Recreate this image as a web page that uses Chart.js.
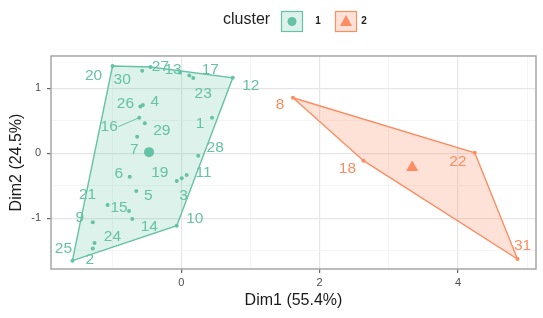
<!DOCTYPE html>
<html><head><meta charset="utf-8">
<script src="https://cdn.jsdelivr.net/npm/chart.js@4.4.1/dist/chart.umd.min.js"></script>
<style>html,body{margin:0;padding:0;background:#fff;}#wrap{width:543px;height:318px;}</style>
</head><body><div id="wrap"><canvas id="c" width="543" height="318"></canvas></div>
<script>
// ---- data ----
const pointIds = ['1','2','3','4','5','6','7','8','9','10','11','12','13','14','15','16','17','18','19','20','21','22','23','24','25','26','27','28','29','30','31'];
const dim1 = [0.443,-1.281,0.004,-0.557,-0.653,-0.747,-0.639,1.614,-1.281,-0.067,0.076,0.743,-0.019,-0.710,-0.757,-0.610,0.114,2.633,-0.067,-0.996,-1.067,4.243,0.171,-1.257,-1.576,-0.593,-0.447,0.243,-0.529,-0.567,4.861];
const dim2 = [0.548,-1.465,-0.385,0.743,-0.580,-0.360,0.255,0.855,-1.062,-1.114,-0.334,1.163,1.240,-1.011,-0.888,0.548,1.197,-0.114,-0.426,1.343,-0.795,0.009,1.158,-1.380,-1.652,0.720,1.328,-0.037,0.462,1.271,-1.626];
const clusterOf = [1,1,1,1,1,1,1,2,1,1,1,1,1,1,1,1,1,2,1,1,1,2,1,1,1,1,1,1,1,1,2];
const clusterNames = ['1','2'];
const xTickValues = [-1,0,1,2,3,4,5];
const xTickLabeled = [0,2,4];
const yTickValues = [-1.5,-1,-0.5,0,0.5,1,1.5];
const yTickLabeled = [-1,0,1];
const xAxisTitle = 'Dim1 (55.4%)';
const yAxisTitle = 'Dim2 (24.5%)';
const legendTitle = 'cluster';

// ---- layout / style (not data) ----
const colors = ['#66C2A5','#FC8D62'];
const fills = ['rgba(102,194,165,0.22)','rgba(252,141,98,0.25)'];
const labelNudge = {
  '1':[-12,6],'2':[-3,11.5],'3':[2,17],'4':[12,-3],'5':[12,5],'6':[-11,-3],'7':[-3,13],'8':[-13,7],
  '9':[-13,-5],'10':[18,-7],'11':[17,-2],'12':[18,8],'13':[-7,-3],'14':[17,8],'15':[-10,-3],
  '16':[-30,9],'17':[21,-6],'18':[-16,8],'19':[-17,-8],'20':[-19,10],'21':[-20,-10],'22':[-17,9],
  '23':[10,16],'24':[18,-6],'25':[-9,-12],'26':[-15,-3],'27':[10,0],'28':[17,-8],'29':[17,7],
  '30':[-20,9],'31':[5,-13]
};
const FONT = "'Liberation Sans', Arial, Helvetica, sans-serif";

function hull(pts){
  const p = pts.slice().sort((a,b)=>a.x-b.x||a.y-b.y);
  const cross=(o,a,b)=>(a.x-o.x)*(b.y-o.y)-(a.y-o.y)*(b.x-o.x);
  const lo=[],up=[];
  for(const q of p){while(lo.length>=2&&cross(lo[lo.length-2],lo[lo.length-1],q)<=0)lo.pop();lo.push(q);}
  for(let i=p.length-1;i>=0;i--){const q=p[i];while(up.length>=2&&cross(up[up.length-2],up[up.length-1],q)<=0)up.pop();up.push(q);}
  up.pop();lo.pop();
  const h=lo.concat(up);h.push(h[0]);return h;
}

const groups = clusterNames.map((name,ci)=>{
  const pts=[];
  pointIds.forEach((id,i)=>{ if(clusterOf[i]===ci+1) pts.push({x:dim1[i],y:dim2[i],id:id}); });
  const cx=pts.reduce((s,p)=>s+p.x,0)/pts.length, cy=pts.reduce((s,p)=>s+p.y,0)/pts.length;
  return {pts, hull:hull(pts), centroid:{x:cx,y:cy}};
});

const datasets=[];
groups.forEach((g,ci)=>{
  datasets.push({type:'line',data:g.hull.map(p=>({x:p.x,y:p.y})),borderColor:colors[ci],backgroundColor:fills[ci],
    borderWidth:1.4,pointRadius:0,fill:'shape',tension:0,order:5,isHull:true});
});
groups.forEach((g,ci)=>{
  datasets.push({type:'scatter',data:g.pts,backgroundColor:colors[ci],borderColor:colors[ci],pointRadius:2,borderWidth:0,order:3,isPts:true,ci:ci});
});
groups.forEach((g,ci)=>{
  datasets.push({type:'scatter',data:[g.centroid],backgroundColor:colors[ci],borderColor:colors[ci],
    pointStyle: ci===0?'circle':'triangle', pointRadius: ci===0?5:7, borderWidth:0, order:1});
});

const overlay={
  id:'overlay',
  afterDatasetsDraw(chart){
    const ctx=chart.ctx;
    ctx.save();
    ctx.font='15.5px '+FONT;ctx.textAlign='center';ctx.textBaseline='middle';
    chart.data.datasets.forEach((ds,di)=>{
      if(!ds.isPts)return;
      const meta=chart.getDatasetMeta(di);
      meta.data.forEach((el,i)=>{
        const id=ds.data[i].id;const n=labelNudge[id]||[0,-10];
        const lx=el.x+n[0], ly=el.y+n[1];
        const d=Math.hypot(n[0],n[1]);
        if(d>25){
          ctx.strokeStyle=colors[ds.ci];ctx.lineWidth=1;
          ctx.beginPath();ctx.moveTo(el.x,el.y);
          ctx.lineTo(lx+ (n[0]<0?9:-9), ly);ctx.stroke();
        }
        ctx.fillStyle=colors[ds.ci];
        ctx.fillText(id,lx,ly);
      });
    });
    ctx.restore();
  },
  afterDraw(chart){
    const ctx=chart.ctx, a=chart.chartArea;
    ctx.save();
    ctx.strokeStyle='#a6a6a6';ctx.lineWidth=1.5;
    ctx.strokeRect(a.left,a.top,a.right-a.left,a.bottom-a.top);
    // legend
    ctx.font='16px '+FONT;ctx.textBaseline='middle';ctx.textAlign='left';
    ctx.fillStyle='#222';
    ctx.fillText(legendTitle,223,20);
    const boxes=[{x:281,lx:318},{x:335,lx:364}];
    boxes.forEach((b,ci)=>{
      ctx.fillStyle=fills[ci];ctx.fillRect(b.x,11,22,21);
      ctx.strokeStyle=colors[ci];ctx.lineWidth=1.2;ctx.strokeRect(b.x+0.5,11.5,21,20);
      ctx.fillStyle=colors[ci];
      const cx=b.x+11, cy=21.5;
      ctx.beginPath();
      if(ci===0){ctx.arc(cx,cy,4.5,0,Math.PI*2);}
      else{ctx.moveTo(cx,cy-6.5);ctx.lineTo(cx+6,cy+4.5);ctx.lineTo(cx-6,cy+4.5);ctx.closePath();}
      ctx.fill();
      ctx.fillStyle='#222';ctx.font='bold 10px '+FONT;ctx.textAlign='center';
      ctx.fillText(clusterNames[ci],b.lx,21.5);
    });
    ctx.restore();
  }
};

const xMin=-1.8857, xMax=5.1286, yMin=-1.780, yMax=1.497;
new Chart(document.getElementById('c'),{
  type:'scatter',
  data:{datasets},
  options:{
    responsive:false,animation:false,devicePixelRatio:1,
    layout:{padding:{left:0,top:56,right:1,bottom:0}},
    plugins:{legend:{display:false},tooltip:{enabled:false}},
    scales:{
      x:{type:'linear',min:xMin,max:xMax,
        afterBuildTicks:s=>{s.ticks=xTickValues.map(v=>({value:v}));},
        afterFit:s=>{s.height=49;},
        ticks:{callback:v=>xTickLabeled.includes(v)?String(v):'',color:'#4d4d4d',font:{size:11,family:FONT},padding:3,maxRotation:0,autoSkip:false},
        grid:{color:c=>xTickLabeled.includes(c.tick&&c.tick.value)?'#e6e6e6':'#f2f2f2',lineWidth:c=>xTickLabeled.includes(c.tick&&c.tick.value)?1.2:0.8,
          tickColor:c=>xTickLabeled.includes(c.tick&&c.tick.value)?'#666':'rgba(0,0,0,0)',tickLength:4,tickWidth:1.2},
        border:{display:false},
        title:{display:true,text:xAxisTitle,color:'#1a1a1a',font:{size:16,family:FONT},padding:{top:0,bottom:8}}
      },
      y:{type:'linear',min:yMin,max:yMax,
        afterBuildTicks:s=>{s.ticks=yTickValues.map(v=>({value:v}));},
        afterFit:s=>{s.width=51;},
        ticks:{callback:v=>yTickLabeled.includes(v)?String(v):'',color:'#4d4d4d',font:{size:11,family:FONT},padding:6,autoSkip:false},
        grid:{color:c=>yTickLabeled.includes(c.tick&&c.tick.value)?'#e6e6e6':'#f2f2f2',lineWidth:c=>yTickLabeled.includes(c.tick&&c.tick.value)?1.2:0.8,
          tickColor:c=>yTickLabeled.includes(c.tick&&c.tick.value)?'#666':'rgba(0,0,0,0)',tickLength:4,tickWidth:1.2},
        border:{display:false},
        title:{display:true,text:yAxisTitle,color:'#1a1a1a',font:{size:16,family:FONT},padding:{top:7,bottom:0}}
      }
    }
  },
  plugins:[overlay]
});
</script></body></html>
